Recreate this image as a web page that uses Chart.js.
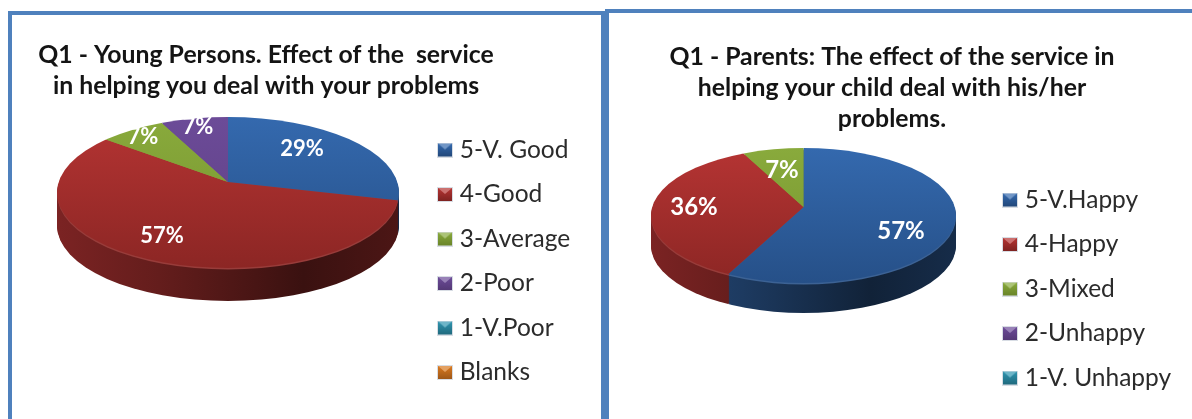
<!DOCTYPE html>
<html><head><meta charset="utf-8">
<script src="https://cdn.jsdelivr.net/npm/chart.js@4"></script>
<style>
html,body{margin:0;padding:0;background:#fff;overflow:hidden}
#wrap{position:absolute;left:0;top:0;width:1192px;height:419px;overflow:hidden;background:#fff;filter:blur(0.45px)}
.frame{position:absolute;box-sizing:border-box;border:4.5px solid #4f81bd;background:#fff}
#f1{left:8px;top:11px;width:597px;height:440px}
#f2{left:604.5px;top:9px;width:640px;height:440px}
canvas{position:absolute}
#c1{left:-50px;top:0;width:632px;height:419px}
#c2{left:612px;top:0;width:560px;height:419px}
</style></head><body>
<div id="wrap">
<div class="frame" id="f1"></div><div class="frame" id="f2"></div>
<canvas id="c1" width="632" height="419"></canvas>
<canvas id="c2" width="560" height="419"></canvas>
</div>
<script>
const youngCategories = ['5-V. Good','4-Good','3-Average','2-Poor','1-V.Poor','Blanks'];
const youngValues = [29,57,7,7,0,0];
const youngTitle = ['Q1 - Young Persons. Effect of the  service','in helping you deal with your problems'];
const parentCategories = ['5-V.Happy','4-Happy','3-Mixed','2-Unhappy','1-V. Unhappy'];
const parentValues = [57,36,7,0,0];
const parentTitle = ['Q1 - Parents: The effect of the service in','helping your child deal with his/her','problems.'];
const topColors = ['#3469ae','#b53433','#89aa3c','#6c4b98','#2f95b0','#d9791f'];
const bottomColors = ['#265088','#8c2624','#76942e','#5d3f83','#24768c','#b0611a'];
const FONT = 'Lato';
const TILT = 0.42;

function rgb(h){return [1,3,5].map(i=>parseInt(h.slice(i,i+2),16));}
function mix(a,b,t){const x=rgb(a),y=rgb(b);return 'rgb('+x.map((v,i)=>Math.round(v+(y[i]-v)*t)).join(',')+')';}
function shade(h,f){return 'rgb('+rgb(h).map(v=>Math.round(v*f)).join(',')+')';}

function marker(i){
  const c=document.createElement('canvas');c.width=16;c.height=15;
  const x=c.getContext('2d');
  x.fillStyle='#d8dde4';x.fillRect(0,0,16,15);
  const g=x.createLinearGradient(0,1,0,14);
  g.addColorStop(0,topColors[i]);g.addColorStop(1,shade(bottomColors[i],.9));
  x.fillStyle=g;x.fillRect(1,1,14,13);
  x.fillStyle=mix(topColors[i],'#ffffff',.3);
  x.beginPath();x.moveTo(1,1);x.lineTo(15,1);x.lineTo(8,7);x.closePath();x.fill();
  return c;
}

const pie3d = {
  id:'pie3d',
  afterLayout(chart,args,o){
    const l=chart.legend,p=chart.options.plugins.legend.labels,fs=p.font.size;
    l.left=o.legendX-p.padding; l.right=chart.width;
    l.top=o.legendY-fs/2-p.padding; l.bottom=chart.height+200;
  },
  beforeDatasetDraw(chart,args,o){
    const ctx=chart.ctx,arcs=args.meta.data;
    const a=arcs[0],R=a.outerRadius;
    const midY=o.apexY+(o.down-o.up)/2, ry=(o.up+o.down)/2;
    const k=1.3*o.rx/R;
    const paint=(off,fill)=>{
      ctx.save();ctx.beginPath();
      ctx.ellipse(o.cx,midY+off,o.rx,ry,0,0,Math.PI*2);
      ctx.clip();
      ctx.translate(o.cx,o.apexY+off);ctx.scale(k,k*TILT);ctx.translate(-a.x,-a.y);
      arcs.forEach((arc,i)=>{
        const saved=arc.options;
        arc.options=Object.create(saved,{backgroundColor:{value:fill(i,a,R)}});
        arc.draw(ctx);
        arc.options=saved;
      });
      ctx.restore();
    };
    const wall=(i,a,R)=>{
      const w=o.rx/k;
      const g=ctx.createLinearGradient(a.x-w,0,a.x+w,0);
      g.addColorStop(0,shade(topColors[i],.68));
      g.addColorStop(.3,shade(topColors[i],.55));
      g.addColorStop(.72,shade(topColors[i],.32));
      g.addColorStop(1,shade(topColors[i],.42));
      return g;
    };
    for(let d=o.depth;d>=2;d--)paint(d,wall);
    paint(1.5,(i)=>mix(bottomColors[i],'#ffffff',.1));
    paint(0,(i,a,R)=>{
      const s=1/(k*TILT);
      const g=ctx.createLinearGradient(0,a.y-o.up*s,0,a.y+o.down*s);
      g.addColorStop(0,topColors[i]);
      g.addColorStop(1,bottomColors[i]);
      return g;
    });
    return false;
  },
  afterDatasetsDraw(chart,args,o){
    const ctx=chart.ctx,arcs=chart.getDatasetMeta(0).data,vals=chart.data.datasets[0].data;
    ctx.save();
    ctx.font='bold '+o.labelSize+'px '+FONT;ctx.fillStyle='#fff';ctx.textAlign='center';ctx.textBaseline='middle';
    arcs.forEach((arc,i)=>{
      if(!vals[i])return;
      const m=(arc.startAngle+arc.endAngle)/2;
      const s=Math.sin(m),c=Math.cos(m);
      const x=o.cx+c*o.rx*o.labelFx[i];
      const y=o.apexY+s*(s>0?o.down:o.up)*o.labelFy[i];
      ctx.fillText(vals[i]+'%',x,y);
    });
    ctx.restore();
  }
};

function make(id,cats,vals,title,titleTop,lh,geo){
  new Chart(document.getElementById(id),{
    type:'pie',
    data:{labels:cats,datasets:[{data:vals,backgroundColor:topColors.slice(0,cats.length),borderWidth:0}]},
    plugins:[pie3d],
    options:{
      responsive:false,animation:false,
      plugins:{
        tooltip:{enabled:false},
        title:{display:true,text:title,color:'#141414',font:{family:FONT,size:24.8,weight:'bold',lineHeight:lh},padding:{top:titleTop,bottom:4}},
        legend:{position:'right',align:'start',labels:{
          font:{family:FONT,size:24.5},color:'#2b2b2b',padding:20,usePointStyle:true,pointStyleWidth:5,boxHeight:14,
          generateLabels:ch=>ch.data.labels.map((t,i)=>({text:t,index:i,pointStyle:marker(i),fontColor:'#2b2b2b',hidden:false,lineWidth:0}))
        }},
        pie3d:geo
      }
    }
  });
}
make('c1',youngCategories,youngValues,youngTitle,39.5,1.25,{
  cx:278,rx:171,apexY:182,up:65,down:86,depth:33,legendX:492.5,legendY:150,labelSize:22,
  labelFx:[.548,.85,.811,.805,0,0],labelFy:[.828,.71,.876,.867,0,0]});
make('c2',parentCategories,parentValues,parentTitle,42,1.24,{
  cx:191.5,rx:152.5,apexY:207,up:59,down:76,depth:30,legendX:395.5,legendY:200,labelSize:24,
  labelFx:[.655,.718,.647,0,0],labelFy:[1.45,0,.643,0,0]});
</script>
</body></html>
